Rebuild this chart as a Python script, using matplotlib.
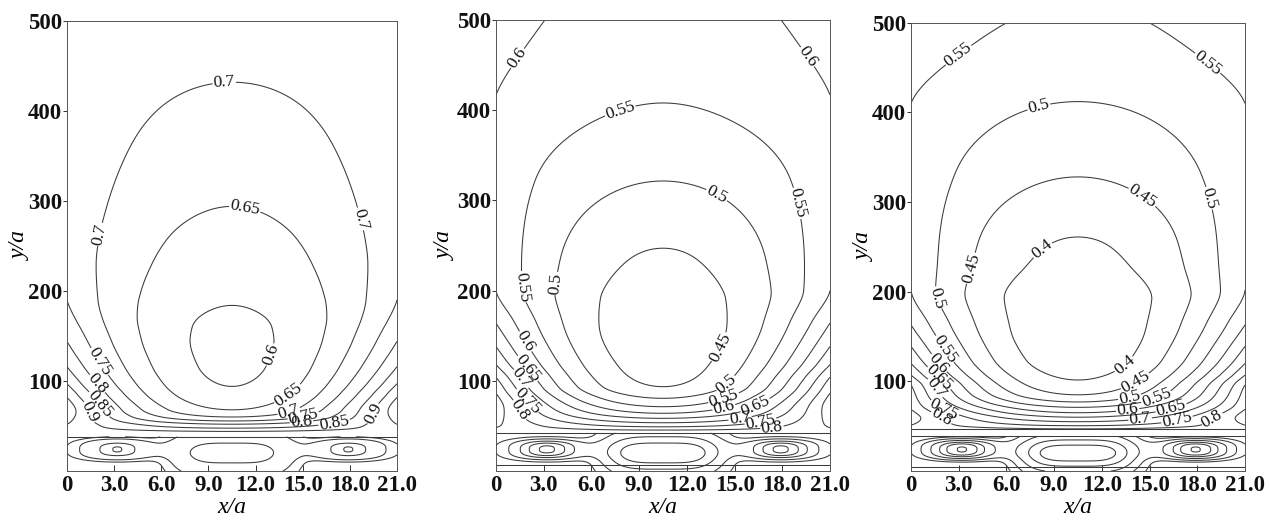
import numpy as np
import matplotlib
matplotlib.use("Agg")
import matplotlib.pyplot as plt

plt.rcParams['font.family'] = ['Liberation Serif', 'DejaVu Serif']

# ---------------- data ----------------
X_TICKS = [0, 3, 6, 9, 12, 15, 18, 21]
X_TICK_LABELS = ['0', '3.0', '6.0', '9.0', '12.0', '15.0', '18.0', '21.0']
Y_TICKS = [100, 200, 300, 400, 500]
X_LABEL = 'x/a'
Y_LABEL = 'y/a'
X_MAX = 21.0
Y_MAX = 500.0
X_CENTER = 10.5

# Panel 1: values where contour levels cross the centre line (x = 10.5) and the side edges
p1_center_y = [38, 44, 47.6, 52, 55.6, 60, 68, 94, 116, 140, 160, 184, 227, 264, 294, 432, 500]
p1_center_v = [0.93, 0.90, 0.85, 0.80, 0.75, 0.70, 0.65, 0.60, 0.589, 0.586, 0.589, 0.60,
               0.622, 0.637, 0.65, 0.70, 0.72]
p1_edge_y = [38, 48, 67, 85, 97, 116, 144, 190, 245, 364, 500]
p1_edge_v = [0.92, 0.94, 0.985, 0.94, 0.90, 0.85, 0.80, 0.75, 0.735, 0.74, 0.74]
p1_levels = [0.6, 0.65, 0.7, 0.75, 0.8, 0.85, 0.9, 0.95]
p1_band_top = 38
p1_extra_lines = []
p1_labels = {
    0.6: [(13.0, 129)],
    0.65: [(11.3, 290), (13.7, 94)],
    0.7: [(10.0, 432), (1.8, 264), (19.1, 282), (13.9, 81)],
    0.75: [(2.2, 123), (14.9, 73)],
    0.8: [(2.2, 101), (14.9, 60)],
    0.85: [(2.5, 81), (16.95, 60)],
    0.9: [(1.9, 68), (18.8, 66)],
}

# Panel 2
p2_center_y = [42, 45.4, 49, 53.5, 58.4, 64, 71.3, 80.6, 93.5, 115, 152, 190, 226, 247, 321.5, 408, 500]
p2_center_v = [0.84, 0.80, 0.75, 0.70, 0.65, 0.60, 0.55, 0.50, 0.45, 0.427, 0.414, 0.424, 0.44, 0.45,
               0.50, 0.55, 0.575]
p2_edge_y = [42, 52, 71, 90, 104, 118, 138, 164, 200, 250, 320, 417, 500]
p2_edge_v = [0.83, 0.86, 0.88, 0.84, 0.80, 0.75, 0.70, 0.65, 0.60, 0.59, 0.585, 0.60, 0.625]
p2_levels = [0.45, 0.5, 0.55, 0.6, 0.65, 0.7, 0.75, 0.8, 0.85]
p2_band_top = 42
p2_extra_lines = [7]
p2_labels = {
    0.6: [(1.4, 457), (19.4, 457), (1.7, 142), (14.2, 80)],
    0.55: [(7.8, 400), (19.0, 297), (1.7, 204), (14.1, 92)],
    0.5: [(13.7, 300), (3.7, 208), (14.0, 106)],
    0.45: [(14.2, 136)],
    0.65: [(2.45, 121), (16.0, 84)],
    0.7: [(2.0, 108), (15.3, 64)],
    0.75: [(2.45, 86), (16.5, 68)],
    0.8: [(2.1, 73), (17.3, 58)],
}

# Panel 3
p3_center_y = [38.5, 47, 50.5, 55, 60, 65, 71, 77, 85, 101.5, 124, 154, 191, 228, 261, 328, 412, 500]
p3_center_v = [0.84, 0.80, 0.75, 0.70, 0.65, 0.60, 0.55, 0.50, 0.45, 0.40, 0.369, 0.359, 0.362, 0.384,
               0.40, 0.45, 0.50, 0.54]
p3_edge_y = [38.5, 48, 60, 72, 96, 107, 120, 139, 163, 202, 265, 340, 410, 500]
p3_edge_v = [0.82, 0.84, 0.875, 0.84, 0.80, 0.75, 0.70, 0.65, 0.60, 0.55, 0.545, 0.54, 0.55, 0.595]
p3_levels = [0.4, 0.45, 0.5, 0.55, 0.6, 0.65, 0.7, 0.75, 0.8, 0.85]
p3_band_top = 38.5
p3_extra_lines = [47, 4]
p3_labels = {
    0.55: [(2.77, 469), (18.8, 458), (2.2, 137), (15.2, 94)],
    0.5: [(8.1, 402), (19.1, 306), (1.6, 193), (13.6, 94)],
    0.45: [(14.4, 302), (3.4, 228), (13.8, 109)],
    0.4: [(8.2, 248), (13.35, 120)],
    0.6: [(2.0, 124), (13.6, 72)],
    0.65: [(2.2, 113), (16.2, 81)],
    0.7: [(2.0, 98), (14.4, 59)],
    0.75: [(2.45, 83), (16.7, 59)],
    0.8: [(2.2, 68), (18.7, 64)],
}

# bottom band cells: left, centre, right
band_cell_x = [3.2, 10.5, 17.9]
band_cell_y = [24, 20, 24]
band_cell_sx = [2.34, 4.0, 2.34]
band_cell_sy = [11.4, 26.5, 11.4]
band_cell_amp = [1.0, 0.95, 1.0]
p1_band_levels = [0.15, 0.35, 0.8, 0.985]
p2_band_levels = [0.15, 0.35, 0.6, 0.8, 0.96]
p3_band_levels = [0.15, 0.3, 0.5, 0.7, 0.85, 0.985]

panels = [
    (p1_center_y, p1_center_v, p1_edge_y, p1_edge_v, p1_levels, p1_band_top, p1_labels, p1_band_levels, p1_extra_lines),
    (p2_center_y, p2_center_v, p2_edge_y, p2_edge_v, p2_levels, p2_band_top, p2_labels, p2_band_levels, p2_extra_lines),
    (p3_center_y, p3_center_v, p3_edge_y, p3_edge_v, p3_levels, p3_band_top, p3_labels, p3_band_levels, p3_extra_lines),
]

# axes rectangles in figure pixels (left, top, right, bottom)
W, H = 1270, 523
rects_px = [(67, 21, 397, 471), (496, 20, 830, 471), (911, 22.7, 1245, 471)]
ylabel_x = [-0.11, -0.12, -0.108]

LINE_COLOR = '#3a3a3a'
LW = 0.75


def pchip(xk, yk, x):
    xk = np.asarray(xk, float)
    yk = np.asarray(yk, float)
    h = np.diff(xk)
    delta = np.diff(yk) / h
    n = len(xk)
    d = np.zeros(n)
    for k in range(1, n - 1):
        if delta[k - 1] * delta[k] > 0:
            w1 = 2 * h[k] + h[k - 1]
            w2 = h[k] + 2 * h[k - 1]
            d[k] = (w1 + w2) / (w1 / delta[k - 1] + w2 / delta[k])
    d[0] = delta[0]
    d[-1] = delta[-1]
    i = np.clip(np.searchsorted(xk, x) - 1, 0, n - 2)
    t = (x - xk[i]) / h[i]
    h00 = 2 * t ** 3 - 3 * t ** 2 + 1
    h10 = t ** 3 - 2 * t ** 2 + t
    h01 = -2 * t ** 3 + 3 * t ** 2
    h11 = t ** 3 - t ** 2
    return h00 * yk[i] + h10 * h[i] * d[i] + h01 * yk[i + 1] + h11 * h[i] * d[i + 1]


def upper_field(cy, cv, ey, ev, ybot):
    x = np.linspace(0, X_MAX, 211)
    y = np.linspace(ybot, Y_MAX, 600)
    Xg, Yg = np.meshgrid(x, y)
    zc = pchip(cy, cv, y)[:, None]
    ze = pchip(ey, ev, y)[:, None]
    u = (Xg - X_CENTER) / X_CENTER
    return Xg, Yg, zc + (ze - zc) * u ** 2


def band_field(ytop):
    x = np.linspace(0, X_MAX, 211)
    y = np.linspace(0, ytop, 120)
    Xg, Yg = np.meshgrid(x, y)
    Z = np.zeros_like(Xg)
    for i, (cx, cyy, sx, sy, a) in enumerate(zip(band_cell_x, band_cell_y, band_cell_sx,
                                                 band_cell_sy, band_cell_amp)):
        if i == 1:
            Z += a * np.exp(-((Xg - cx) / sx) ** 4 - ((Yg - cyy) / sy) ** 2)
        else:
            Z += a * np.exp(-((Xg - cx) / sx) ** 2 - np.abs((Yg - cyy) / sy) ** 3)
    return Xg, Yg, Z


fig = plt.figure(figsize=(W / 100, H / 100), dpi=100)

for (cy, cv, ey, ev, levels, ybt, labels, blev, extra), (l, t, r, b), ylx in zip(panels, rects_px, ylabel_x):
    ax = fig.add_axes([l / W, 1 - b / H, (r - l) / W, (b - t) / H])
    ax.set_xlim(0, X_MAX)
    ax.set_ylim(0, Y_MAX)
    Xu, Yu, Zu = upper_field(cy, cv, ey, ev, ybt)
    for lev in levels:
        cs = ax.contour(Xu, Yu, Zu, levels=[lev], colors=LINE_COLOR, linewidths=LW)
        if lev in labels:
            cs.clabel(manual=labels[lev], inline=True, inline_spacing=1,
                      fmt='%g', fontsize=12.5, colors='#111111')
    Xb, Yb, Zb = band_field(ybt)
    ax.contour(Xb, Yb, Zb, levels=blev, colors=LINE_COLOR, linewidths=LW)
    ax.axhline(ybt, color=LINE_COLOR, lw=LW)
    for yl in extra:
        ax.axhline(yl, color=LINE_COLOR, lw=LW)

    ax.set_xticks(X_TICKS)
    ax.set_xticklabels(X_TICK_LABELS)
    ax.set_yticks(Y_TICKS)
    ax.tick_params(axis='x', direction='in', length=4, width=0.6, labelsize=16.5, pad=3, colors='#111111')
    ax.tick_params(axis='y', direction='out', length=3, width=0.6, labelsize=16.5, pad=0.5, colors='#111111')
    for lab in ax.get_xticklabels() + ax.get_yticklabels():
        lab.set_fontweight('bold')
    for s in ax.spines.values():
        s.set_linewidth(0.7)
        s.set_color('#555555')
    ax.set_xlabel(X_LABEL, fontsize=17, style='italic')
    ax.set_ylabel(Y_LABEL, fontsize=17, style='italic')
    ax.xaxis.set_label_coords(0.5, -0.058)
    ax.yaxis.set_label_coords(ylx, 0.5)

fig.savefig('out.png', dpi=100)
